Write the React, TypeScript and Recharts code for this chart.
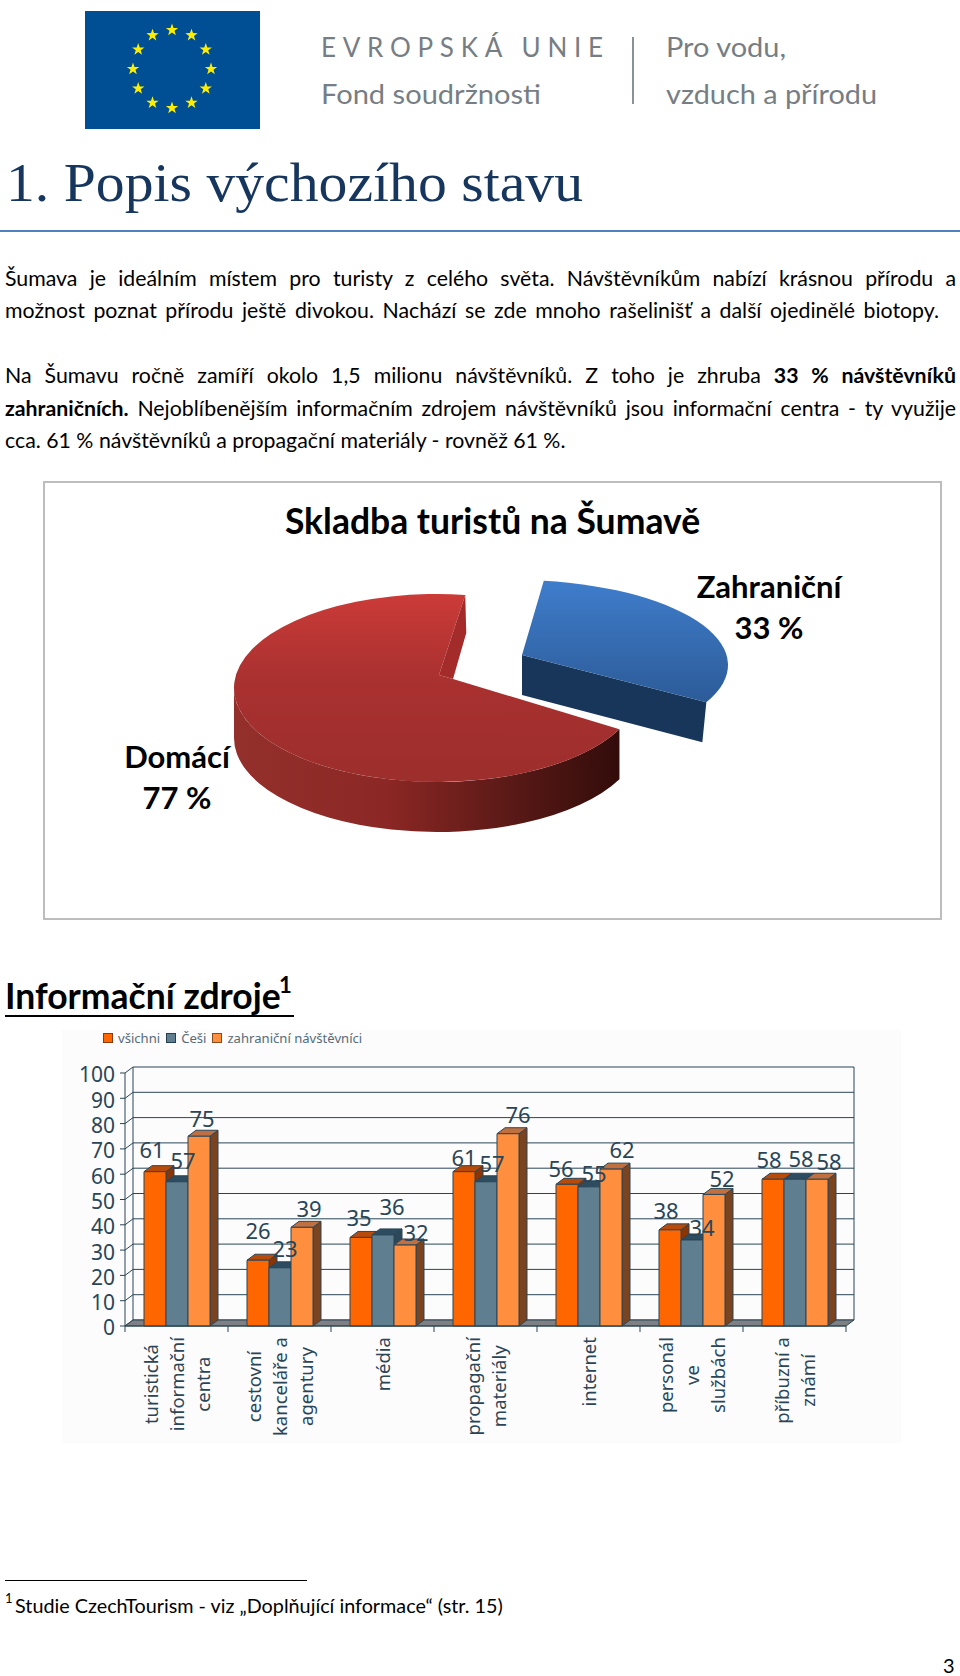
import React from "react";
import {
  BarChart,
  Bar,
  XAxis,
  YAxis,
  CartesianGrid,
  ReferenceArea,
  Legend,
  LabelList,
  PieChart,
  Pie,
} from "recharts";

// bar chart data
const categories = [
  "turistická|informační|centra",
  "cestovní|kanceláře a|agentury",
  "média",
  "propagační|materiály",
  "internet",
  "personál|ve|službách",
  "příbuzní a|známí",
];
const vsichni = [61, 26, 35, 61, 56, 38, 58];
const cesi = [57, 23, 36, 57, 55, 34, 58];
const zahranicni = [75, 39, 32, 76, 62, 52, 58];
const yTicks = [0, 10, 20, 30, 40, 50, 60, 70, 80, 90, 100];

// pie data
const pieNames = ["Zahraniční", "Domácí"];
const pieValues = [33, 77];

const rows = categories.map((category, i) => ({
  category,
  vsichni: vsichni[i],
  cesi: cesi[i],
  zahranicni: zahranicni[i],
}));
const pieRows = pieNames.map((name, i) => ({ name, value: pieValues[i] }));

// label placement relative to the top centre of each bar
const nudgeVsichni = [[-3, -23], [0, -30], [-2, -20], [0, -15], [-6, -16], [-4, -20], [-4, -20]];
const nudgeCesi = [[6, -22], [5, -20], [9, -29], [6, -19], [5, -14], [10, -13], [6, -21]];
const nudgeZahranicni = [[3, -18], [7, -19], [11, -13], [10, -20], [11, -20], [8, -16], [12, -18]];

const INK = "#2A4557";
const CHART_FONT = "'Noto Sans', sans-serif";
const TEXT_FONT = "Lato, sans-serif";
const DX = 8;
const DY = 6;
const BAND = 103;

const measure = document.createElement("canvas").getContext("2d");
function lineWidth(text: string) {
  if (!measure) return text.length * 9;
  measure.font = "18.5px 'Noto Sans'";
  return measure.measureText(text).width;
}

function Box3D(props: any) {
  const { x, y, width, height, front, top, side } = props;
  const r = x + width;
  const b = y + height;
  return (
    <g stroke={INK} strokeWidth={1} strokeLinejoin="round">
      <polygon points={`${r},${y} ${r + DX},${y - DY} ${r + DX},${b - DY} ${r},${b}`} fill={side} />
      <polygon points={`${x},${y} ${x + DX},${y - DY} ${r + DX},${y - DY} ${r},${y}`} fill={top} />
      <rect x={x} y={y} width={width} height={height} fill={front} />
    </g>
  );
}

function GridLine(props: any) {
  const { x1, x2, y1 } = props;
  return (
    <g stroke={INK} strokeWidth={1}>
      <line x1={x1} y1={y1} x2={x1 + DX} y2={y1 - DY} />
      <line x1={x1 + DX} y1={y1 - DY} x2={x2 + DX} y2={y1 - DY} />
    </g>
  );
}

function Walls(props: any) {
  const { x, y, width, height } = props;
  const r = x + width;
  const b = y + height;
  return (
    <g stroke={INK} strokeWidth={1}>
      <polygon points={`${x},${b} ${x + DX},${b - DY} ${r + DX},${b - DY} ${r},${b}`} fill="#7E8084" />
      <line x1={x + DX} y1={y - DY} x2={x + DX} y2={b - DY} />
      <line x1={r + DX} y1={y - DY} x2={r + DX} y2={b - DY} />
    </g>
  );
}

function CategoryTick(props: any) {
  const { x, payload, index, visibleTicksCount } = props;
  const lines: string[] = String(payload.value).split("|");
  const longest = Math.max(...lines.map(lineWidth));
  const axisY = 296;
  return (
    <g>
      <line x1={x - BAND / 2} y1={axisY} x2={x - BAND / 2} y2={axisY + 6} stroke={INK} />
      {index === visibleTicksCount - 1 && (
        <line x1={x + BAND / 2} y1={axisY} x2={x + BAND / 2} y2={axisY + 6} stroke={INK} />
      )}
      {lines.map((line, i) => {
        const lx = x + (i - (lines.length - 1) / 2) * 26;
        const ly = axisY + 11 + longest / 2;
        return (
          <text
            key={line}
            x={lx}
            y={ly}
            transform={`rotate(-90 ${lx} ${ly})`}
            textAnchor="middle"
            dominantBaseline="central"
            fontSize={18.5}
            fontFamily={CHART_FONT}
            fill={INK}
          >
            {line}
          </text>
        );
      })}
    </g>
  );
}

function makeValueLabel(nudge: number[][]) {
  return function ValueLabel(props: any) {
    const { x, y, width, value, index } = props;
    return (
      <text
        x={x + width / 2 + nudge[index][0]}
        y={y + nudge[index][1]}
        textAnchor="middle"
        dominantBaseline="central"
        fontSize={22}
        fontFamily={CHART_FONT}
        fill={INK}
      >
        {value}
      </text>
    );
  };
}

const legendItems = [
  { label: "všichni", color: "#FF6600", edge: "#8A3A08" },
  { label: "Češi", color: "#5F7F90", edge: "#24404F" },
  { label: "zahraniční návštěvníci", color: "#FF8F3F", edge: "#8A4A1A" },
];

function LegendRow() {
  return (
    <div style={{ display: "flex", gap: 6, fontFamily: CHART_FONT, fontSize: 13.1, color: "#566B7A", lineHeight: "20px", whiteSpace: "nowrap" }}>
      {legendItems.map((item) => (
        <span key={item.label} style={{ display: "flex", alignItems: "center", gap: 5 }}>
          <span style={{ width: 8, height: 8, background: item.color, border: `1px solid ${item.edge}` }} />
          {item.label}
        </span>
      ))}
    </div>
  );
}

// ellipse of each slice, relative to the pie chart box
const sliceShape: Record<string, any> = {
  Zahraniční: { cx: 471, cy: 184, rx: 214, ry: 85, depth: 40, apex: [479, 174], apex2: [479, 174] },
  Domácí: { cx: 394, cy: 207, rx: 203, ry: 94, depth: 50, apex: [396, 194], apex2: [410, 198] },
};

function Slice3D(props: any) {
  const { startAngle, endAngle, name, payload } = props;
  const key = name ?? payload?.name;
  const s = sliceShape[key];
  const at = (deg: number) => {
    const a = (deg * Math.PI) / 180;
    return [s.cx + s.rx * Math.cos(a), s.cy - s.ry * Math.sin(a)];
  };
  const [sx, sy] = at(startAngle);
  const [ex, ey] = at(endAngle);
  const large = Math.abs(startAngle - endAngle) > 180 ? 1 : 0;
  const isRed = key === "Domácí";
  const [bx, by] = at(-180);
  const d = s.depth;
  return (
    <g>
      <defs>
        <linearGradient id="redFace" x1="0" y1="0" x2="0" y2="1">
          <stop offset="0%" stopColor="#CB3B38" />
          <stop offset="45%" stopColor="#A93130" />
          <stop offset="100%" stopColor="#9C2E2C" />
        </linearGradient>
        <linearGradient id="redSide" x1="0" y1="0" x2="1" y2="0">
          <stop offset="0%" stopColor="#93302C" />
          <stop offset="40%" stopColor="#8B2724" />
          <stop offset="75%" stopColor="#551815" />
          <stop offset="100%" stopColor="#320C0A" />
        </linearGradient>
        <linearGradient id="blueFace" x1="0" y1="0" x2="0" y2="1">
          <stop offset="0%" stopColor="#3F7DCB" />
          <stop offset="100%" stopColor="#2C5B98" />
        </linearGradient>
      </defs>
      {isRed ? (
        <path
          d={`M${sx},${sy} A${s.rx},${s.ry} 0 0 1 ${bx},${by} L${bx},${by + d} A${s.rx},${s.ry} 0 0 0 ${sx},${sy + d} Z`}
          fill="url(#redSide)"
        />
      ) : (
        <polygon
          points={`${s.apex[0]},${s.apex[1]} ${ex},${ey} ${ex - 4},${ey + d} ${s.apex[0]},${s.apex[1] + d}`}
          fill="#18355A"
        />
      )}
      <path
        d={`M${s.apex2[0]},${s.apex2[1]} L${sx},${sy} A${s.rx},${s.ry} 0 ${large} 1 ${ex},${ey} L${s.apex[0]},${s.apex[1]} Z`}
        fill={isRed ? "url(#redFace)" : "url(#blueFace)"}
      />
      {isRed && (
        <polygon
          points={`${ex},${ey} ${ex + 1},${ey + 38} ${s.apex2[0]},${s.apex2[1]} ${s.apex[0]},${s.apex[1]}`}
          fill="#A32C2A"
        />
      )}
    </g>
  );
}

const pieLabelPos: Record<string, number[]> = {
  Zahraniční: [726, 105],
  Domácí: [134, 275],
};

function PieLabel(props: any) {
  const { name, value } = props;
  const [x, y] = pieLabelPos[name];
  const style = { fontFamily: TEXT_FONT, fontWeight: 700, fontSize: 31, fill: "#000" };
  return (
    <g>
      <text x={x} y={y} textAnchor="middle" dominantBaseline="central" {...style}>
        {name}
      </text>
      <text x={x} y={y + 41} textAnchor="middle" dominantBaseline="central" {...style}>
        {value} %
      </text>
    </g>
  );
}

function Line_({ y, x = 5, w, children, justify = true, size = 21.3 }: any) {
  return (
    <div
      style={{
        position: "absolute",
        left: x,
        top: y - 15,
        width: w,
        height: 30,
        lineHeight: "30px",
        fontFamily: TEXT_FONT,
        fontSize: size,
        color: "#000",
        whiteSpace: "nowrap",
        textAlign: "justify",
        textAlignLast: justify ? "justify" : "left",
      }}
    >
      {children}
    </div>
  );
}

function Logo() {
  const stars = Array.from({ length: 12 }, (_, i) => {
    const a = (i * Math.PI) / 6;
    const cx = 172 + 39 * Math.cos(a);
    const cy = 69 + 39 * Math.sin(a);
    const pts = Array.from({ length: 10 }, (_, k) => {
      const r = k % 2 === 0 ? 6.5 : 2.6;
      const t = -Math.PI / 2 + (k * Math.PI) / 5;
      return `${cx + r * Math.cos(t)},${cy + r * Math.sin(t)}`;
    }).join(" ");
    return <polygon key={i} points={pts} fill="#FFED00" />;
  });
  const grey = { fontFamily: TEXT_FONT, fill: "#767E84", fontSize: 26 };
  return (
    <svg width={960} height={140} style={{ position: "absolute", left: 0, top: 0 }}>
      <rect x={85} y={11} width={175} height={118} fill="#004F95" />
      {stars}
      <text x={321} y={57} textLength={282} lengthAdjust="spacing" {...grey}>EVROPSKÁ UNIE</text>
      <text x={321} y={104} textLength={220} lengthAdjust="spacingAndGlyphs" {...grey}>Fond soudržnosti</text>
      <line x1={633} y1={37} x2={633} y2={104} stroke="#8A9298" strokeWidth={2} />
      <text x={666} y={57} textLength={120} lengthAdjust="spacingAndGlyphs" {...grey}>Pro vodu,</text>
      <text x={666} y={104} textLength={211} lengthAdjust="spacingAndGlyphs" {...grey}>vzduch a přírodu</text>
    </svg>
  );
}

export default function App() {
  return (
    <div style={{ position: "absolute", left: 0, top: 0, width: 960, height: 1676, background: "#fff", overflow: "hidden" }}>
      <Logo />
      <svg width={960} height={70} style={{ position: "absolute", left: 0, top: 145 }}>
        <text x={6} y={56} textLength={577} lengthAdjust="spacingAndGlyphs" fontFamily="'Liberation Serif', serif" fontSize={54} fill="#17365D">
          1. Popis výchozího stavu
        </text>
      </svg>
      <div style={{ position: "absolute", left: 0, top: 230, width: 960, height: 2, background: "#4F81BD" }} />

      <Line_ y={278} w={951}>Šumava je ideálním místem pro turisty z celého světa. Návštěvníkům nabízí krásnou přírodu a</Line_>
      <Line_ y={310} w={934}>možnost poznat přírodu ještě divokou. Nachází se zde mnoho rašelinišť a další ojedinělé biotopy.</Line_>
      <Line_ y={375} w={951}>Na Šumavu ročně zamíří okolo 1,5 milionu návštěvníků. Z toho je zhruba <b>33 % návštěvníků</b></Line_>
      <Line_ y={408} w={951}><b>zahraničních.</b> Nejoblíbenějším informačním zdrojem návštěvníků jsou informační centra - ty využije</Line_>
      <Line_ y={440} w={561} justify={false}>cca. 61 % návštěvníků a propagační materiály - rovněž 61 %.</Line_>

      <div style={{ position: "absolute", left: 43, top: 481, width: 899, height: 439, boxSizing: "border-box", border: "2px solid #BDBDBD" }} />
      <div style={{ position: "absolute", left: 43, top: 497, width: 899, textAlign: "center", fontFamily: TEXT_FONT, fontWeight: 700, fontSize: 35.5, lineHeight: "48px", color: "#000" }}>
        Skladba turistů na Šumavě
      </div>
      <div style={{ position: "absolute", left: 43, top: 481 }}>
        <PieChart width={899} height={439} margin={{ top: 0, right: 0, bottom: 0, left: 0 }}>
          <Pie
            data={pieRows}
            dataKey="value"
            nameKey="name"
            cx={394}
            cy={207}
            outerRadius={94}
            startAngle={82}
            endAngle={-278}
            stroke="none"
            shape={Slice3D}
            label={PieLabel}
            labelLine={false}
            isAnimationActive={false}
          />
        </PieChart>
      </div>

      <div style={{ position: "absolute", left: 5, top: 975, fontFamily: TEXT_FONT, fontWeight: 700, fontSize: 35.5, lineHeight: "42px", color: "#000" }}>
        Informační zdroje
      </div>
      <div style={{ position: "absolute", left: 279, top: 972, fontFamily: TEXT_FONT, fontWeight: 700, fontSize: 22, lineHeight: "26px", color: "#000" }}>1</div>
      <div style={{ position: "absolute", left: 5, top: 1015, width: 289, height: 2, background: "#000" }} />

      <div style={{ position: "absolute", left: 62, top: 1030, width: 839, height: 413, background: "#FCFCFC" }}>
        <BarChart
          width={839}
          height={413}
          data={rows}
          margin={{ top: 43, right: 55, bottom: 0, left: 0 }}
          barGap={0}
          barSize={22}
        >
          <CartesianGrid horizontal={GridLine} vertical={false} />
          <ReferenceArea y1={0} y2={100} shape={Walls} />
          <XAxis
            dataKey="category"
            height={117}
            interval={0}
            tick={<CategoryTick />}
            tickLine={false}
            axisLine={{ stroke: INK }}
          />
          <YAxis
            type="number"
            domain={[0, 100]}
            ticks={yTicks}
            interval={0}
            width={63}
            tick={{ fill: INK, fontSize: 21, fontFamily: CHART_FONT, dy: 2 }}
            tickSize={5}
            tickMargin={5}
            tickLine={{ stroke: INK }}
            axisLine={{ stroke: INK }}
          />
          <Legend
            layout="horizontal"
            verticalAlign="middle"
            align="center"
            content={<LegendRow />}
            wrapperStyle={{ left: 41, top: -2, width: "auto" }}
          />
          <Bar
            dataKey="vsichni"
            isAnimationActive={false}
            shape={<Box3D front="#FF6600" top="#B84A0A" side="#8A3505" />}
          >
            <LabelList dataKey="vsichni" content={makeValueLabel(nudgeVsichni)} />
          </Bar>
          <Bar
            dataKey="cesi"
            isAnimationActive={false}
            shape={<Box3D front="#5F7F90" top="#2E4C5F" side="#2A4858" />}
          >
            <LabelList dataKey="cesi" content={makeValueLabel(nudgeCesi)} />
          </Bar>
          <Bar
            dataKey="zahranicni"
            isAnimationActive={false}
            shape={<Box3D front="#FF8F3F" top="#C07040" side="#7A4420" />}
          >
            <LabelList dataKey="zahranicni" content={makeValueLabel(nudgeZahranicni)} />
          </Bar>
        </BarChart>
      </div>

      <div style={{ position: "absolute", left: 5, top: 1580, width: 302, height: 1, background: "#000" }} />
      <div style={{ position: "absolute", left: 5, top: 1590, fontFamily: TEXT_FONT, fontSize: 13, lineHeight: "16px" }}>1</div>
      <Line_ y={1605} x={15} w={488} justify={false} size={19.8}>Studie CzechTourism - viz „Doplňující informace“ (str. 15)</Line_>
      <div style={{ position: "absolute", left: 943, top: 1652, fontFamily: TEXT_FONT, fontSize: 20, lineHeight: "26px" }}>3</div>
    </div>
  );
}
